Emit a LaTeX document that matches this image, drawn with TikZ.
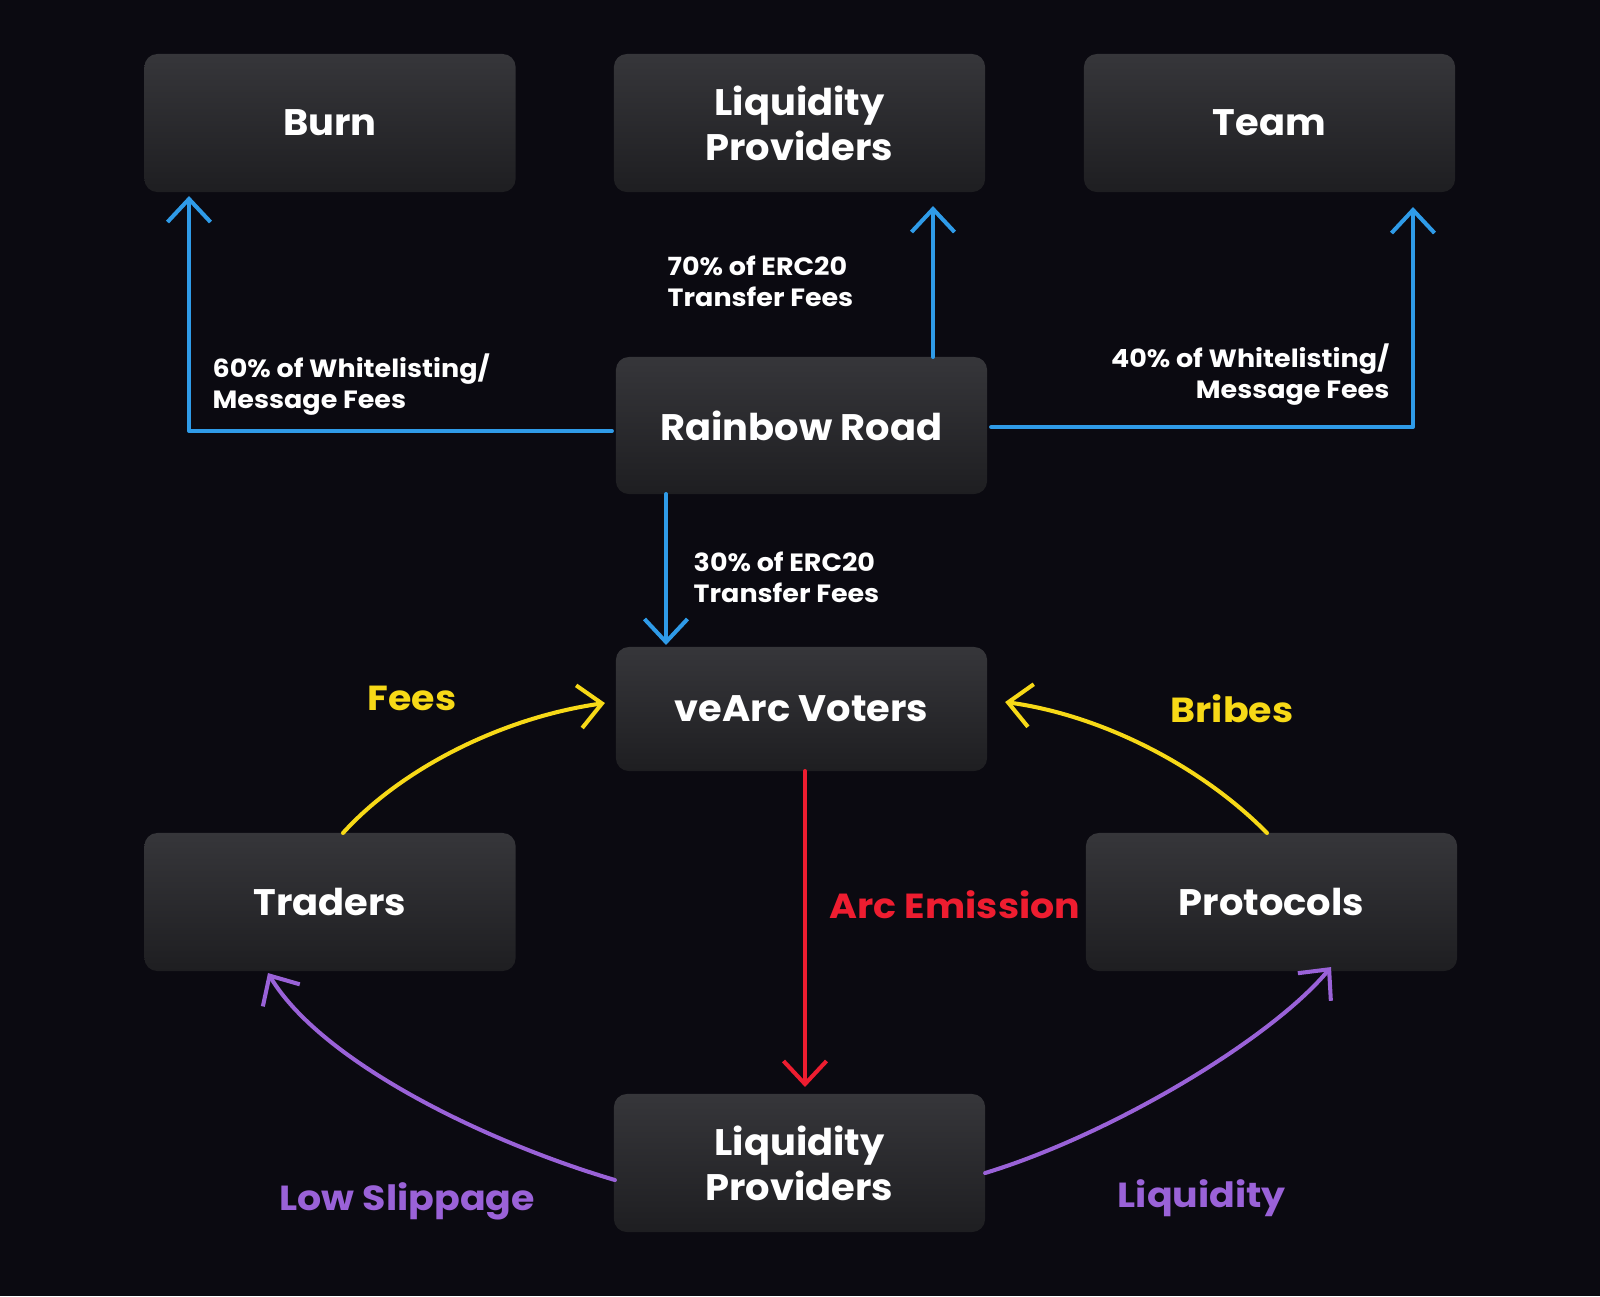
\documentclass[tikz,border=0pt]{standalone}
\usepackage{fontspec}
\setmainfont{Poppins}
\newfontfamily\panelfont[FakeStretch=1.04]{Poppins}
\newfontfamily\notefont[FakeStretch=1.08]{Poppins}
\newfontfamily\tagfont[FakeStretch=1.09]{Poppins}
\usetikzlibrary{arrows.meta}
\definecolor{bgdark}{HTML}{0B0A11}
\definecolor{boxtop}{HTML}{36363A}
\definecolor{boxbot}{HTML}{1E1E21}
\definecolor{flowblue}{HTML}{2F9BE8}
\definecolor{feeyellow}{HTML}{F7D917}
\definecolor{emitred}{HTML}{EE1D30}
\definecolor{lpviolet}{HTML}{9A62D8}
\begin{document}
\begin{tikzpicture}
	[x=0.01cm, y=-0.01cm, line join=round, line cap=round,
	>={Straight Barb[length=2.3mm,width=4.3mm]},
	panel/.style={rounded corners=0.13cm, top color=boxtop, bottom color=boxbot,
		minimum width=3.71cm, minimum height=1.38cm, inner sep=0pt, outer sep=0pt,
		text=white, align=center, font=\panelfont\bfseries\fontsize{10.5}{12.8}\selectfont},
	note/.style={text=white, inner sep=0pt, font=\notefont\bfseries\fontsize{7.1}{8.8}\selectfont},
	tag/.style={inner sep=0pt, anchor=base west, font=\tagfont\bfseries\fontsize{9.9}{11}\selectfont},
	flow/.style={->, line width=1.15pt}]
	\fill[bgdark] (0,0) rectangle (1600,1296);
	% boxes
	\node[panel] (burn) at (330,123) {Burn};
	\node[panel] (lptop) at (799.5,123) {Liquidity\\Providers};
	\node[panel] (team) at (1269.5,123) {Team};
	\node[panel, minimum height=1.37cm] (rainbow) at (801.5,425.5) {Rainbow Road};
	\node[panel, minimum height=1.24cm] (vearc) at (801.5,709) {veArc Voters};
	\node[panel] (traders) at (330,902) {Traders};
	\node[panel] (protocols) at (1271.5,902) {Protocols};
	\node[panel] (lpbot) at (799.5,1163) {Liquidity\\Providers};
	% fee split
	\draw[flow, flowblue] ([shift={(-4,5.5)}]rainbow.west) -| ([shift={(-141,4)}]burn.south);
	\draw[flow, flowblue] ([shift={(131.5,0)}]rainbow.north) -- ([shift={(133.5,14)}]lptop.south);
	\draw[flow, flowblue] ([shift={(4,1.5)}]rainbow.east) -| ([shift={(143.5,15)}]team.south);
	\draw[flow, flowblue] ([shift={(-135.5,0)}]rainbow.south) -- ([shift={(-135.5,-2)}]vearc.north);
	\draw[flow, emitred] ([shift={(3.5,0)}]vearc.south) -- ([shift={(5.5,-7)}]lpbot.north);
	% loop
	\draw[flow, feeyellow] ([shift={(13,0)}]traders.north) .. controls +(57,-63) and +(-105,15) .. ([shift={(-11,-6)}]vearc.west);
	\draw[flow, feeyellow] ([shift={(-4.5,0)}]protocols.north) .. controls +(-67,-68) and +(95,13) .. ([shift={(18,-7)}]vearc.east);
	\draw[flow, lpviolet] ([shift={(1,17)}]lpbot.west) .. controls +(-135,-40) and +(52,87) .. ([shift={(-62,2)}]traders.south);
	\draw[flow, lpviolet] ([shift={(0,10)}]lpbot.east) .. controls +(125,-38) and +(-61,73) .. ([shift={(59.5,-4)}]protocols.south);
	% labels
	\node[note, anchor=north west, align=left] (whiteleft) at (212,353) {60\% of Whitelisting/\\Message Fees};
	\node[note, anchor=north west, align=left] (erc70) at (667,255) {70\% of ERC20\\Transfer Fees};
	\node[note, anchor=north east, align=right] (whiteright) at (1390,343) {40\% of Whitelisting/\\Message Fees};
	\node[note, anchor=north west, align=left] (erc30) at (693,551) {30\% of ERC20\\Transfer Fees};
	\node[tag, text=feeyellow] (fees) at (367,710) {Fees};
	\node[tag, text=feeyellow] (bribes) at (1170,722) {Bribes};
	\node[tag, text=emitred] (emission) at (829,918) {Arc Emission};
	\node[tag, text=lpviolet] (slippage) at (279,1210) {Low Slippage};
	\node[tag, text=lpviolet] (liq) at (1117,1207) {Liquidity};
\end{tikzpicture}
\end{document}
